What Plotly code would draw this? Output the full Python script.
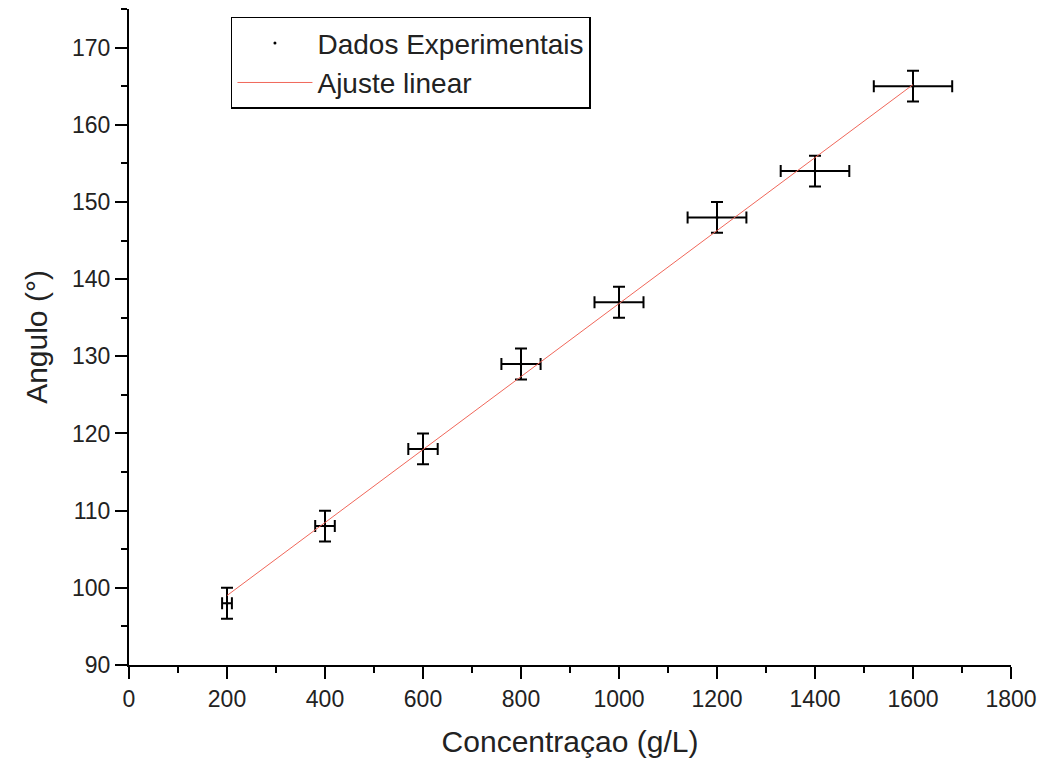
import plotly.graph_objects as go

# Data
conc = [200, 400, 600, 800, 1000, 1200, 1400, 1600]
angle = [98, 108, 118, 129, 137, 148, 154, 165]
angle_err = [2, 2, 2, 2, 2, 2, 2, 2]
conc_err = [10, 20, 30, 40, 50, 60, 70, 80]

fit_x = [200, 1600]
fit_y = [99.0, 165.2]

FONT = "Liberation Sans, Arial, sans-serif"

fig = go.Figure()

fig.add_trace(go.Scatter(
    x=conc, y=angle, mode="markers", name="Dados Experimentais",
    marker=dict(color="black", size=3),
    error_y=dict(type="data", array=angle_err, visible=True, color="black",
                 thickness=2, width=6),
    error_x=dict(type="data", array=conc_err, visible=True, color="black",
                 thickness=2, width=6),
))

fig.add_trace(go.Scatter(
    x=fit_x, y=fit_y, mode="lines", name="Ajuste linear",
    line=dict(color="#F0675A", width=1),
))

axis_common = dict(
    showline=True, linecolor="black", linewidth=2,
    ticks="outside", ticklen=12, tickwidth=2, tickcolor="black",
    showgrid=False, zeroline=False,
    tickfont=dict(family=FONT, size=23, color="#222"),
    mirror=False,
)

fig.update_xaxes(
    range=[0, 1800], dtick=200, tick0=0,
    minor=dict(dtick=100, ticks="outside", ticklen=6, tickwidth=2, tickcolor="black"),
    title=dict(text="Concentraçao (g/L)", font=dict(family=FONT, size=30, color="#222"), standoff=20),
    **axis_common,
)
fig.update_yaxes(
    range=[90, 175], dtick=10, tick0=90,
    minor=dict(dtick=5, ticks="outside", ticklen=6, tickwidth=2, tickcolor="black"),
    title=dict(text="Angulo (°)", font=dict(family=FONT, size=30, color="#222"), standoff=16),
    **axis_common,
)

fig.update_layout(
    width=1057, height=761,
    margin=dict(l=129, r=46, t=9, b=96),
    paper_bgcolor="white", plot_bgcolor="white",
    showlegend=True,
    legend=dict(
        x=0.1156, y=0.988, xanchor="left", yanchor="top",
        bgcolor="white", bordercolor="black", borderwidth=1.5,
        font=dict(family=FONT, size=28, color="#222"),
        itemwidth=75, tracegroupgap=0,
    ),
    font=dict(family=FONT),
)

fig.write_html("out.html")
